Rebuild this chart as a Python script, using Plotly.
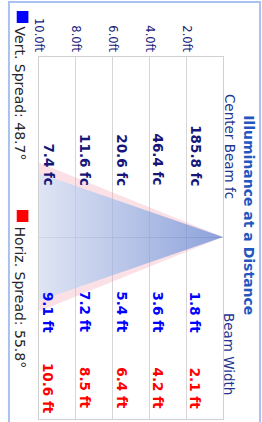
import plotly.graph_objects as go

# ---------------- data ----------------
distances = [2, 4, 6, 8, 10]
distance_labels = ["2.0ft", "4.0ft", "6.0ft", "8.0ft", "10.0ft"]
center_beam_fc = [185.8, 46.4, 20.6, 11.6, 7.4]
vert_beam_width = [1.8, 3.6, 5.4, 7.2, 9.1]
horiz_beam_width = [2.1, 4.2, 6.4, 8.5, 10.6]
vert_spread_deg = 48.7
horiz_spread_deg = 55.8

# ---------------- layout helpers ----------------
W, H = 262, 422
def px(x):
    return x / W
def py(y):
    return 1 - y / H

FONT = "DejaVu Sans"
fig = go.Figure()

dmax = distances[-1]
h_half = horiz_beam_width[-1] / 2
v_half = vert_beam_width[-1] / 2

# horizontal spread (pink) cone
fig.add_trace(go.Scatter(
    x=[0, dmax, dmax, 0], y=[0, h_half, -h_half, 0],
    mode="lines", line=dict(width=0), fill="toself",
    fillcolor="rgba(242,160,178,0.32)", hoverinfo="skip", showlegend=False))
# vertical spread (blue gradient) cone
fig.add_trace(go.Scatter(
    x=[0, dmax, dmax, 0], y=[0, v_half, -v_half, 0],
    mode="lines", line=dict(width=0), fill="toself",
    fillgradient=dict(type="horizontal",
                      colorscale=[[0, "rgba(50,110,209,0.56)"], [1, "rgba(200,232,255,0.56)"]],
                      start=0, stop=dmax),
    hoverinfo="skip", showlegend=False))

ann = []
def add(text, x, y, color, size, bold=False, xref="paper", yref="paper",
        xanchor="center", yanchor="middle", xshift=0):
    ann.append(dict(text=("<b>%s</b>" % text) if bold else text, x=x, y=y,
                    xref=xref, yref=yref, xanchor=xanchor, yanchor=yanchor,
                    xshift=xshift, textangle=90, showarrow=False,
                    font=dict(family=FONT, size=size, color=color)))

add("Illuminance at a Distance", px(248.5), py(215), "#2456c0", 14, bold=True)
add("Center Beam fc", px(228.7), py(146.5), "#1c3690", 13.5)
add("Beam Width", px(228.7), py(354.5), "#1c3690", 13.5)

for d, fc, vw, hw in zip(distances, center_beam_fc, vert_beam_width, horiz_beam_width):
    add("%.1f fc" % fc, d, py(188), "#16167a", 13.5, bold=True, xref="x",
        yanchor="bottom", xshift=9)
    add("%.1f ft" % vw, d, py(312), "#0000ff", 13.5, bold=True, xref="x", xshift=9)
    add("%.1f ft" % hw, d, py(388), "#ff0000", 13.5, bold=True, xref="x", xshift=9)

add("Vert. Spread: %.1f°" % vert_spread_deg, px(13.8), py(25), "#262626", 14, yanchor="top")
add("Horiz. Spread: %.1f°" % horiz_spread_deg, px(13.8), py(225), "#262626", 14, yanchor="top")

shapes = [
    dict(type="rect", xref="paper", yref="paper", x0=px(2), x1=px(260), y0=py(440), y1=py(2),
         line=dict(color="#a9c1ee", width=2), fillcolor="rgba(0,0,0,0)", layer="below"),
    dict(type="rect", xref="paper", yref="paper", x0=px(10), x1=px(22), y0=py(23), y1=py(11),
         line=dict(width=0), fillcolor="#0000ff"),
    dict(type="rect", xref="paper", yref="paper", x0=px(10), x1=px(22), y0=py(222), y1=py(210),
         line=dict(width=0), fillcolor="#ff0000"),
]

fig.update_layout(
    width=W, height=H, autosize=False,
    margin=dict(l=0, r=0, t=0, b=0),
    paper_bgcolor="white", plot_bgcolor="white",
    showlegend=False,
    annotations=ann, shapes=shapes,
    xaxis=dict(domain=[px(33), px(222)], range=[dmax, 0], side="top",
               tickmode="array", tickvals=distances, ticktext=distance_labels,
               tickangle=90, ticks="", tickfont=dict(family=FONT, size=11.5, color="#16207a"),
               showgrid=True, gridcolor="#d6d6d6", gridwidth=1,
               showline=True, mirror=True, linecolor="#d0d0d0", linewidth=1,
               zeroline=False, fixedrange=True),
    yaxis=dict(domain=[py(419), py(57)], range=[-13.0, 12.857],
               showgrid=False, showticklabels=False, ticks="",
               zeroline=True, zerolinecolor="#d0d0d0", zerolinewidth=1,
               showline=True, mirror=True, linecolor="#d0d0d0", linewidth=1,
               fixedrange=True),
)

fig.write_html("out.html", config={"displayModeBar": False},
               post_script="document.body.style.margin='0';document.body.style.overflow='hidden';")
